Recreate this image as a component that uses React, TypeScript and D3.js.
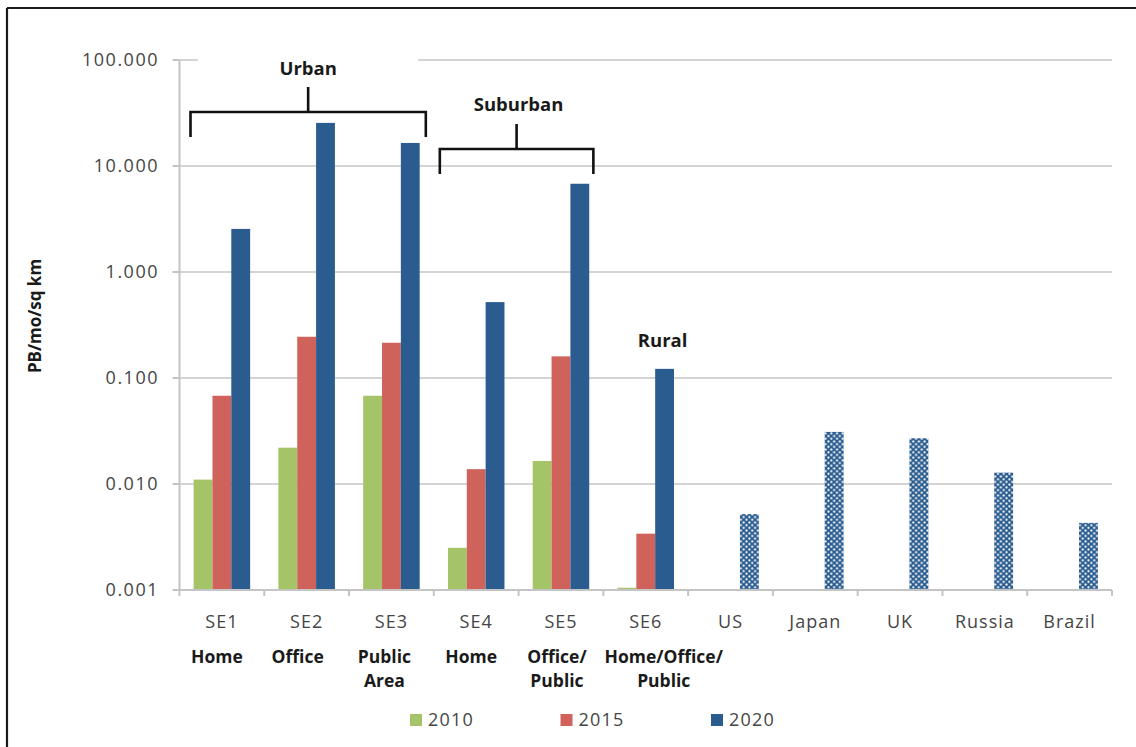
import React from "react";
import * as d3 from "d3";

// Traffic density per study area (PB/mo/sq km), log scale
const regions: string[] = ["SE1", "SE2", "SE3", "SE4", "SE5", "SE6"];
const countries: string[] = ["US", "Japan", "UK", "Russia", "Brazil"];
const categories: string[] = [...regions, ...countries];

const areaTypes: string[][] = [
  ["Home"],
  ["Office"],
  ["Public", "Area"],
  ["Home"],
  ["Office/", "Public"],
  ["Home/Office/", "Public"],
];

const years: string[] = ["2010", "2015", "2020"];
const values2010: (number | null)[] = [0.011, 0.022, 0.068, 0.0025, 0.0165, 0.00105, null, null, null, null, null];
const values2015: (number | null)[] = [0.068, 0.245, 0.215, 0.0138, 0.16, 0.0034, null, null, null, null, null];
const values2020: (number | null)[] = [2.55, 25.5, 16.5, 0.52, 6.8, 0.122, 0.0052, 0.031, 0.027, 0.0128, 0.0043];

const yTickValues: number[] = [0.001, 0.01, 0.1, 1, 10, 100];

const FONT = "'Open Sans', sans-serif";
const colors: Record<string, string> = { "2010": "#a5c367", "2015": "#cf635c", "2020": "#2a5c90" };

export default function App() {
  const W = 1136;
  const H = 747;
  const left = 179.5;
  const right = 1112;
  const top = 60;
  const bottom = 590;

  const x = d3.scaleBand<string>().domain(categories).range([left, right]).paddingInner(0).paddingOuter(0);
  const x1 = d3.scaleBand<string>().domain(years).range([0, x.bandwidth()]).paddingInner(0).paddingOuter(0.75);
  const y = d3.scaleLog().domain([0.001, 100]).range([bottom, top]);

  const series: Record<string, (number | null)[]> = { "2010": values2010, "2015": values2015, "2020": values2020 };

  const fmt = d3.format(".3f");
  const cx = (c: string) => (x(c) as number) + x.bandwidth() / 2;

  // Small shifts of the area-type captions under each region label
  const captionShift = [-5, -9, -7, -5, -4, 18];

  const urbanL = (x("SE1") as number) + 11;
  const urbanR = (x("SE3") as number) + x.bandwidth() - 8;
  const subL = (x("SE4") as number) + 6;
  const subR = (x("SE5") as number) + x.bandwidth() - 10;

  const se6Blue = (x("SE6") as number) + (x1("2020") as number) + x1.bandwidth() / 2;

  return (
    <div style={{ position: "absolute", left: 0, top: 0, width: W, height: H, background: "#fff" }}>
      <svg width={W} height={H} style={{ display: "block" }}>
        <defs>
          <pattern id="dots" width={5.7} height={5.4} patternUnits="userSpaceOnUse">
            <rect width={5.7} height={5.4} fill={colors["2020"]} />
            <circle cx={1.4} cy={1.35} r={1.1} fill="#fff" />
            <circle cx={4.25} cy={4.05} r={1.1} fill="#fff" />
          </pattern>
        </defs>
        <rect width={W} height={H} fill="#fff" />
        {/* outer frame */}
        <line x1={7} y1={8} x2={W} y2={8} stroke="#1a1a1a" strokeWidth={2.2} />
        <line x1={7} y1={8} x2={7} y2={H} stroke="#1a1a1a" strokeWidth={2.2} />

        {/* gridlines */}
        {yTickValues.slice(1).map((t) => (
          <line key={t} x1={left} x2={right} y1={y(t)} y2={y(t)} stroke="#d4d4d4" strokeWidth={2} />
        ))}

        {/* white box behind the Urban annotation */}
        <rect x={198} y={52} width={220} height={16} fill="#fff" />

        {/* y axis */}
        <line x1={left} x2={left} y1={top} y2={bottom} stroke="#c4c4c4" strokeWidth={2} />
        {yTickValues.map((t) => (
          <g key={t}>
            <line x1={left - 7} x2={left} y1={y(t)} y2={y(t)} stroke="#c4c4c4" strokeWidth={2} />
            <text
              x={159}
              y={y(t)}
              dy="0.36em"
              textAnchor="end"
              fontFamily={FONT}
              fontSize={18}
              letterSpacing={1.5}
              fill="#454545"
            >
              {fmt(t)}
            </text>
          </g>
        ))}
        <text
          transform={`translate(41,316) rotate(-90)`}
          textAnchor="middle"
          fontFamily={FONT}
          fontWeight={700}
          fontSize={17}
          fill="#1a1a1a"
        >
          PB/mo/sq km
        </text>

        {/* bars */}
        {categories.map((c, i) => (
          <g key={c} transform={`translate(${x(c)},0)`}>
            {years.map((yr) => {
              const v = series[yr][i];
              if (v == null) return null;
              const isCountry = countries.includes(c);
              return (
                <rect
                  key={yr}
                  x={x1(yr)}
                  y={y(v)}
                  width={x1.bandwidth()}
                  height={bottom - y(v)}
                  fill={isCountry ? "url(#dots)" : colors[yr]}
                />
              );
            })}
          </g>
        ))}

        {/* x axis */}
        <line x1={left} x2={right} y1={bottom} y2={bottom} stroke="#c4c4c4" strokeWidth={2} />
        {[...categories.map((c) => x(c) as number), right].map((px, i) => (
          <line key={i} x1={px} x2={px} y1={bottom} y2={bottom + 6} stroke="#c4c4c4" strokeWidth={2} />
        ))}
        {categories.map((c) => (
          <text
            key={c}
            x={cx(c)}
            y={628}
            textAnchor="middle"
            fontFamily={FONT}
            fontSize={18}
            letterSpacing={1}
            fill="#454545"
          >
            {c}
          </text>
        ))}
        {areaTypes.map((lines, i) => (
          <text
            key={i}
            x={cx(regions[i]) + captionShift[i]}
            y={663}
            textAnchor="middle"
            fontFamily={FONT}
            fontWeight={700}
            fontSize={17.5}
            fill="#1a1a1a"
          >
            {lines.map((ln, j) => (
              <tspan key={j} x={cx(regions[i]) + captionShift[i]} dy={j === 0 ? 0 : 23.5}>
                {ln}
              </tspan>
            ))}
          </text>
        ))}

        {/* Urban bracket */}
        <path
          d={`M${urbanL},137 V112 H${urbanR} V137 M${(urbanL + urbanR) / 2},112 V87`}
          fill="none"
          stroke="#111"
          strokeWidth={2.6}
        />
        <text x={(urbanL + urbanR) / 2} y={75} textAnchor="middle" fontFamily={FONT} fontWeight={700} fontSize={18.5} fill="#1a1a1a">
          Urban
        </text>

        {/* Suburban bracket */}
        <path
          d={`M${subL},174 V149 H${subR} V174 M${(subL + subR) / 2},149 V124`}
          fill="none"
          stroke="#111"
          strokeWidth={2.6}
        />
        <text x={(subL + subR) / 2 + 2} y={111} textAnchor="middle" fontFamily={FONT} fontWeight={700} fontSize={18.5} fill="#1a1a1a">
          Suburban
        </text>

        {/* Rural label */}
        <text x={se6Blue - 2} y={y(values2020[5] as number) - 22} textAnchor="middle" fontFamily={FONT} fontWeight={700} fontSize={18.5} fill="#1a1a1a">
          Rural
        </text>

        {/* legend */}
        {years.map((yr, i) => (
          <g key={yr} transform={`translate(${410 + i * 150.5},714)`}>
            <rect width={12} height={12} fill={colors[yr]} />
            <text x={18} y={12} fontFamily={FONT} fontSize={18} letterSpacing={1.2} fill="#454545">
              {yr}
            </text>
          </g>
        ))}
      </svg>
    </div>
  );
}
